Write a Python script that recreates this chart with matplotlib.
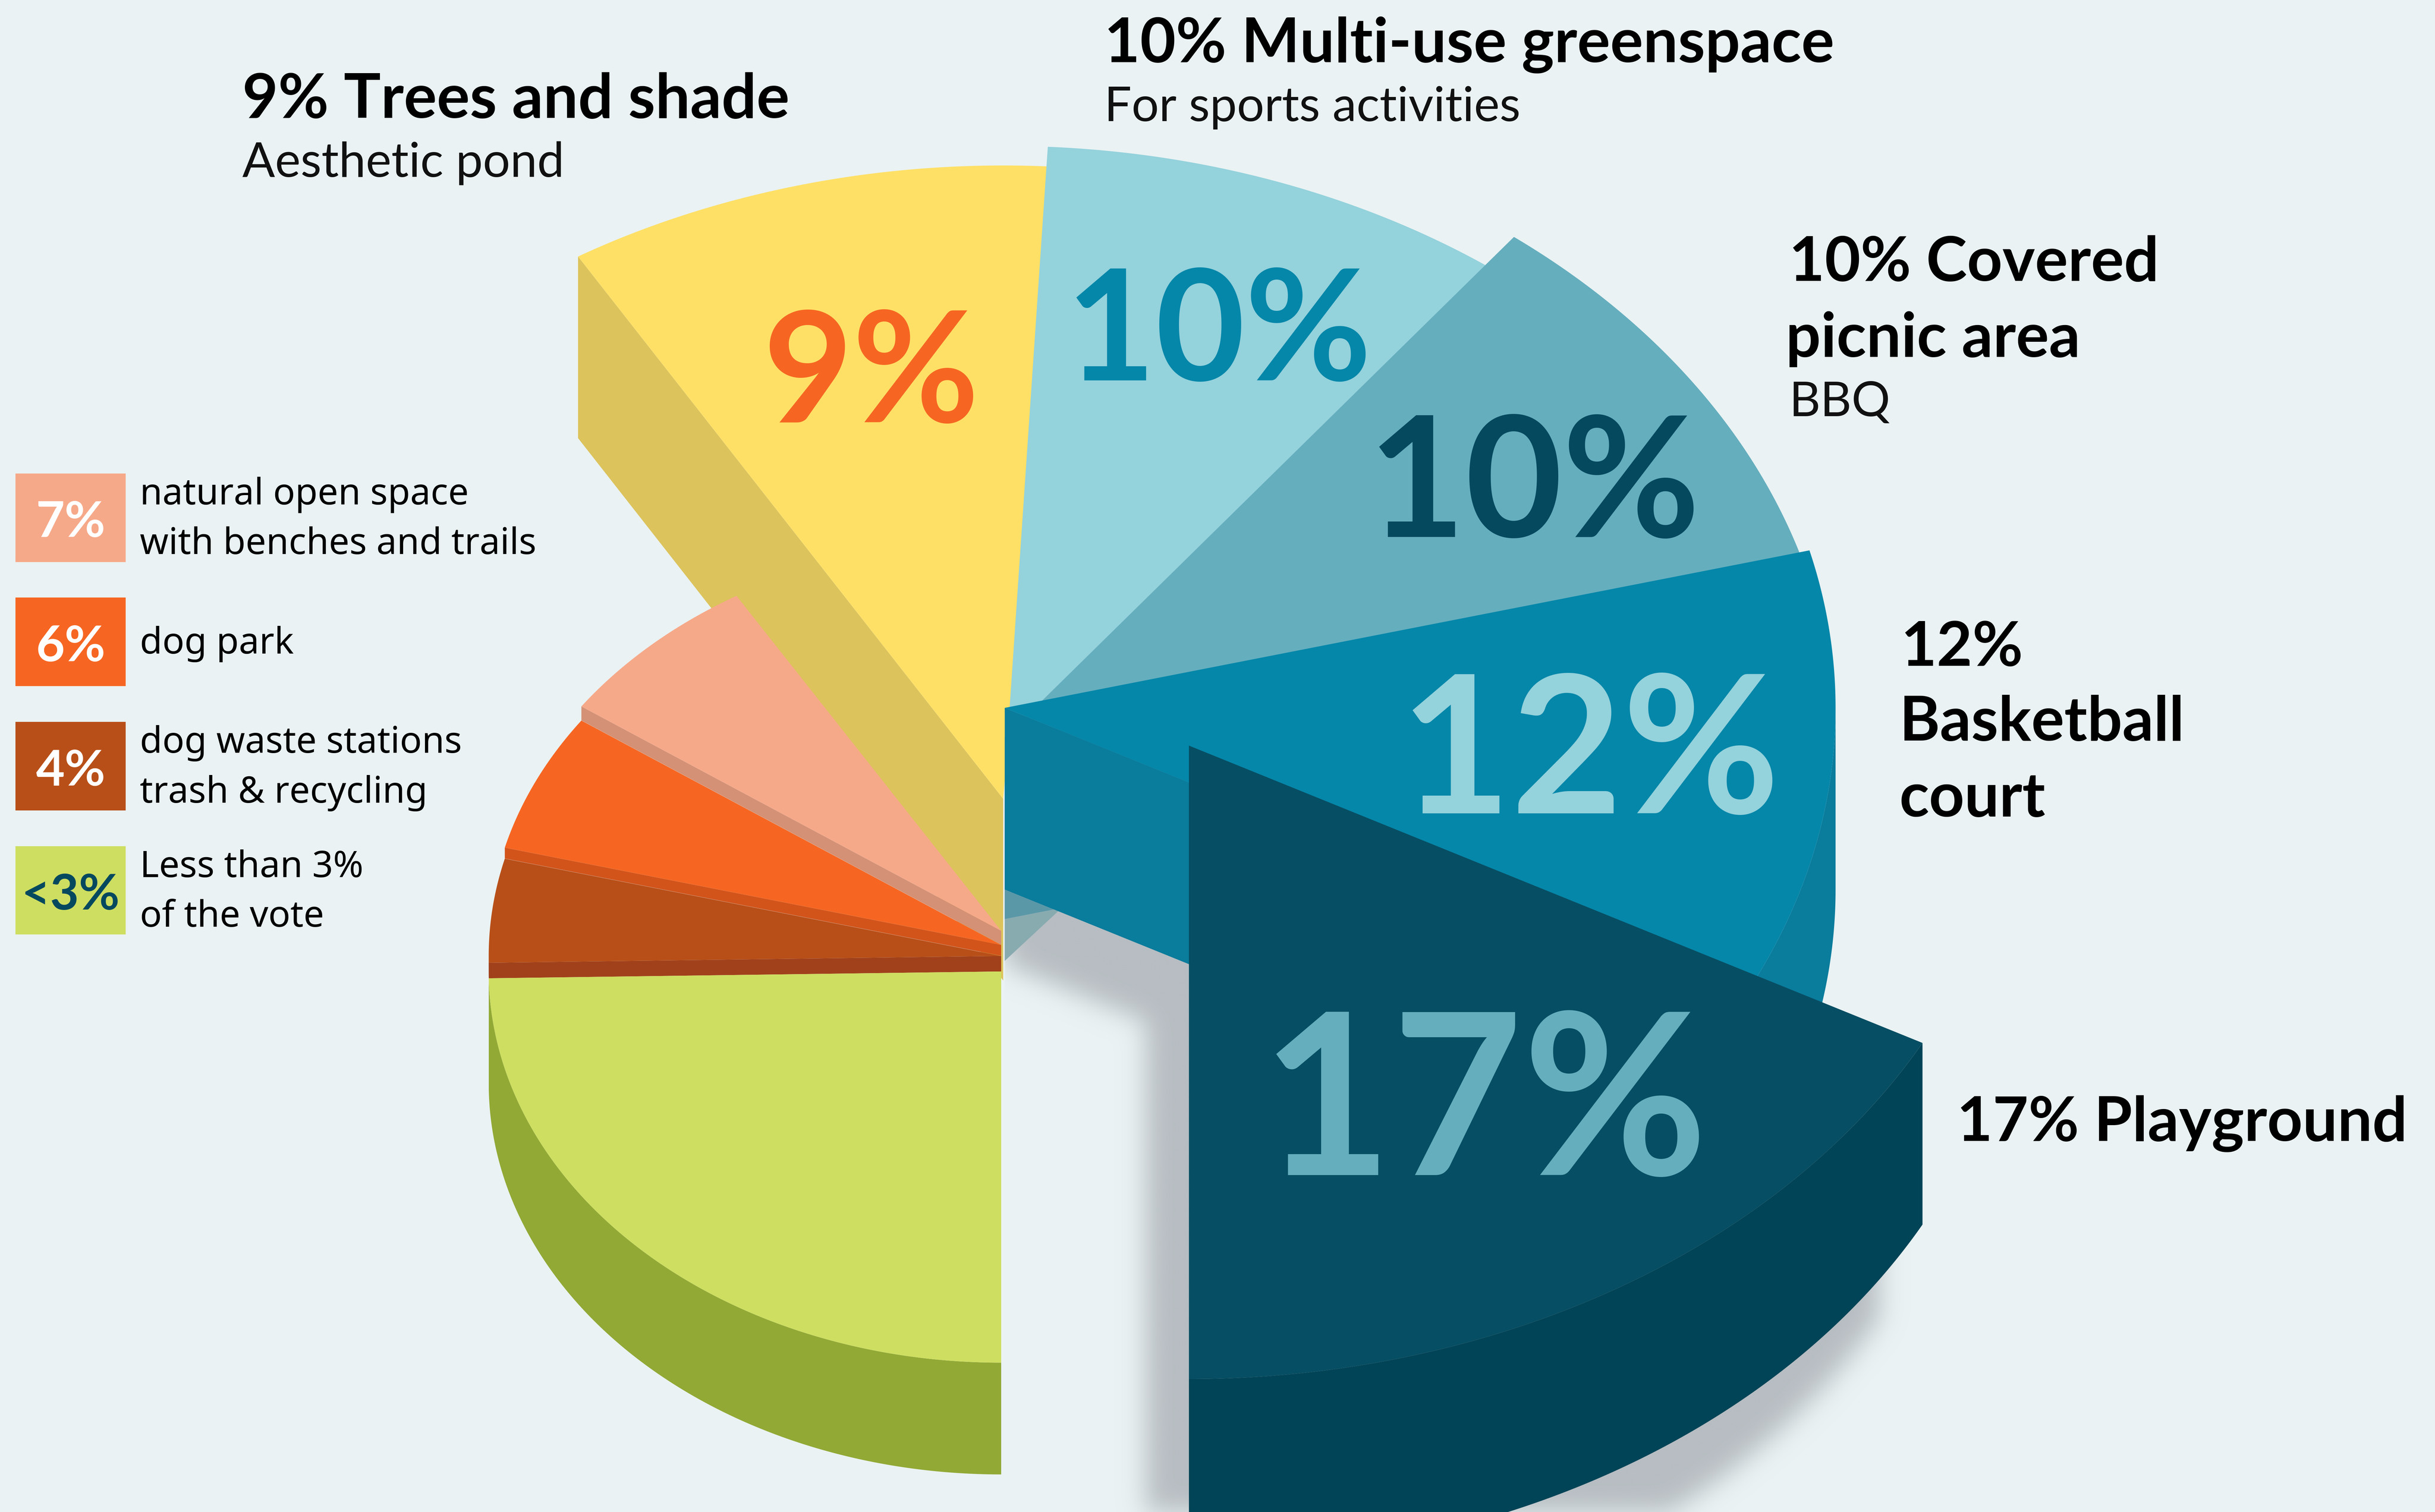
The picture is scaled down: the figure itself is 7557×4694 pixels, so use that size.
# plot.py
# Exploded 3D-style pie of park amenity votes, drawn as filled polygons.

import numpy as np
import matplotlib
matplotlib.use('Agg')
import matplotlib.pyplot as plt
from matplotlib.path import Path

W, H = 1568.0, 974.0   # working units, same aspect as the output image

# --- data: share of votes, clockwise from the bottom of the pie ---
names = ['<3%', '4%', '6%', '7%', '9%', '10a', '10b', '12%', '17%']
values = [25, 4, 6, 7, 9, 10, 10, 12, 17]

legend_pct = ['7%', '6%', '4%', '<3%']
legend_txt = ['natural open space\nwith benches and trails', 'dog park',
              'dog waste stations\ntrash & recycling', 'Less than 3%\nof the vote']

# --- style of each slice ---
top_col = ['#cede60', '#b84f18', '#f66622', '#f6a989', '#ffe066', '#94d2dc', '#65aebe', '#0587a9', '#064e63']
side_col = ['#92a935', '#a1411b', '#d2541b', '#d49176', '#dcc35c', '#88abb0', '#5a98a8', '#0a7c9c', '#024457']
apex_x = [644.7, 644.7, 644.7, 644.7, 646.0, 647.0, 647.0, 647.0, 765.6]
apex_y = [625.8, 615.8, 608.7, 599.6, 514.6, 502.0, 475.0, 456.0, 480.3]
rad_x = [330, 330, 330, 330, 530, 530, 535, 535, 535]
rad_y = [252, 252, 252, 252, 408, 408, 408, 408, 408]
depth = [72, 10, 7, 9, 117, 117, 117, 117, 117]
# small hand corrections, the artwork is not cut exactly to the numbers
nudge_a = [0, -1, 0, -1, -2.3, -0.6, -1.8, 0, -0.8]
nudge_b = [-1, 0, -1, -2.3, 0, 0, 0, -0.8, 0]

BG = '#eaf2f3'
SHADOW = '#b7bdc2'
HEAD = ['Lato', 'DejaVu Sans']
BODY = ['Noto Sans', 'DejaVu Sans']


def arc(i, t0, t1, n=200):
    t = np.radians(np.linspace(t0, t1, n))
    return apex_x[i] - rad_x[i] * np.sin(t), apex_y[i] + rad_y[i] * np.cos(t)


def outline(i, dy=0):
    x, y = arc(i, angle_a[i], angle_b[i])
    return np.r_[apex_x[i], x], np.r_[apex_y[i], y] + dy


def radial_face(i, t):
    x, y = arc(i, t, t, 1)
    xs = [apex_x[i], x[0], x[0], apex_x[i]]
    ys = [apex_y[i], y[0], y[0] + depth[i], apex_y[i] + depth[i]]
    return xs, ys


def rim(i):
    # only the front half of the rim can be seen
    a, b = angle_a[i], angle_b[i]
    if a >= 90 and b <= 270:
        return None
    a, b = (a, min(b, 90)) if a < 90 else (max(a, 270), b)
    x, y = arc(i, a, b)
    return np.r_[x, x[::-1]], np.r_[y, y[::-1] + depth[i]]


# slice angles from the values
edges = np.cumsum([0] + values) * 360.0 / sum(values)
angle_a = edges[:-1] + np.array(nudge_a)
angle_b = edges[1:] + np.array(nudge_b)

fig = plt.figure(figsize=(7557 / 300, 4694 / 300), dpi=300, facecolor=BG)
ax = fig.add_axes([0, 0, 1, 1])
ax.set_xlim(0, W)
ax.set_ylim(H, 0)
ax.axis('off')

# --- soft shadow below the two front slices ---
gx, gy = np.meshgrid(np.arange(W) + 0.5, np.arange(H) + 0.5)
pts = np.c_[gx.ravel(), gy.ravel()]
i_dark, i_teal = 8, 7
mask = np.zeros(gx.shape)
x_d, y_d = arc(i_dark, angle_a[i_dark], angle_b[i_dark])
shape_x = np.r_[x_d, x_d[-1], x_d[0]] - 28
shape_y = np.r_[y_d + 117, y_d[-1] - 300, y_d[0]] + 60
mask = np.maximum(mask, Path(np.c_[shape_x, shape_y]).contains_points(pts).reshape(gx.shape))
fx, fy = radial_face(i_teal, angle_b[i_teal])
face = Path(np.c_[fx, np.array(fy) + 48]).contains_points(pts).reshape(gx.shape)
mask = np.maximum(mask, face)
g = np.arange(-24, 25)
kernel = np.exp(-g ** 2 / (2 * 8.0 ** 2))
kernel /= kernel.sum()
mask = np.apply_along_axis(lambda r: np.convolve(r, kernel, mode='same'), 0, mask)
mask = np.apply_along_axis(lambda r: np.convolve(r, kernel, mode='same'), 1, mask)
mask[gx < 647] = 0
rgba = np.zeros(gx.shape + (4,))
rgba[..., :3] = matplotlib.colors.to_rgb(SHADOW)
rgba[..., 3] = mask
ax.imshow(rgba, extent=(0, W, H, 0), interpolation='bilinear', aspect='auto', zorder=0)

# --- slices, back to front ---
draw_order = [4, 3, 2, 1, 0, 5, 6, 7, 8]
for z, i in enumerate(draw_order):
    left = angle_b[i] <= 184 and i != 5
    t_face = angle_a[i] if left else angle_b[i]
    fx, fy = radial_face(i, t_face)
    ax.fill(fx, fy, color=side_col[i], lw=0, zorder=1 + z)
    r = rim(i)
    if r is not None:
        ax.fill(r[0], r[1], color=side_col[i], lw=0, zorder=1 + z)
    tx, ty = outline(i)
    ax.fill(tx, ty, color=top_col[i], lw=0, zorder=1 + z)

# --- big numbers on the slices ---
big = [('9%', 561, 272, 115, '#f66622'), ('10%', 785, 245, 115, '#0587a9'),
       ('10%', 988, 346, 125, '#05495f'), ('12%', 1024, 524, 143, '#94d2dc'),
       ('17%', 956, 757, 168, '#65aebe')]
for s, x, y, size, c in big:
    ax.text(x, y, s, family=HEAD, fontweight='bold', fontsize=size, color=c, va='baseline', ha='center', zorder=30)

# --- outside labels ---
heads = [('9% Trees and shade', 156, 76), ('10% Multi-use greenspace', 711, 40),
         ('10% Covered', 1152, 181), ('picnic area', 1150, 230), ('12%', 1224, 429),
         ('Basketball', 1223, 477), ('court', 1223, 526), ('17% Playground', 1260, 735)]
for s, x, y in heads:
    ax.text(x, y, s, family=HEAD, fontweight='bold', fontsize=46, color='black', va='baseline', zorder=30)

subs = [('Aesthetic pond', 156, 114), ('For sports activities', 711, 78), ('BBQ', 1152, 268)]
for s, x, y in subs:
    ax.text(x, y, s, family=HEAD, fontsize=36, color='#111111', va='baseline', zorder=30)

# --- legend on the left ---
box_top = [305, 385, 465, 545]
box_col = ['#f6a989', '#f66622', '#b84f18', '#cede60']
pct_col = ['white', 'white', 'white', '#05495f']
txt_base = [325, 421, 485, 565]
for k in range(len(legend_pct)):
    ax.fill([10, 81, 81, 10], [box_top[k], box_top[k], box_top[k] + 57, box_top[k] + 57],
            color=box_col[k], lw=0, zorder=30)
    ax.text(45.5, box_top[k] + 41, legend_pct[k], family=HEAD, fontweight='bold', fontsize=37,
            color=pct_col[k], ha='center', va='baseline', zorder=31)
    for n, line in enumerate(legend_txt[k].split('\n')):
        ax.text(90, txt_base[k] + 32 * n, line, family=BODY, fontsize=27.2, color='black',
                va='baseline', zorder=31)

fig.savefig('out.png', dpi=300, facecolor=BG)
